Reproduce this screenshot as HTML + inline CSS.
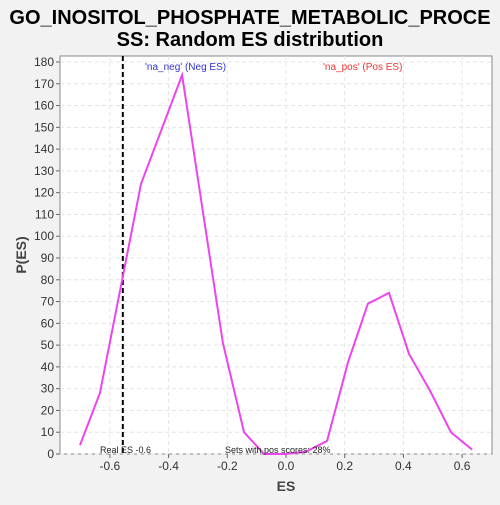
<!DOCTYPE html>
<html><head><meta charset="utf-8"><style>
body{margin:0;width:500px;height:500px;background:#f2f2f2;font-family:"Liberation Sans",sans-serif;overflow:hidden}
</style></head><body>
<svg id="c" width="500" height="500">
<text x="250" y="24" text-anchor="middle" font-size="20" font-weight="bold" fill="#000">GO_INOSITOL_PHOSPHATE_METABOLIC_PROCE</text>
<text x="250" y="46" text-anchor="middle" font-size="20" font-weight="bold" fill="#000">SS: Random ES distribution</text>
<rect x="60" y="56" width="432" height="398" fill="#fff" stroke="#888"/>
<g id="grid"></g><g id="axes"></g><g id="marks"></g>
<text x="286" y="491" text-anchor="middle" font-size="14" font-weight="bold" fill="#444">ES</text>
<text transform="translate(26,255) rotate(-90)" text-anchor="middle" font-size="14" font-weight="bold" fill="#444">P(ES)</text>
<text x="145" y="70" font-size="10" fill="#3333cc">'na_neg' (Neg ES)</text>
<text x="323" y="70" font-size="10" fill="#ee3333">'na_pos' (Pos ES)</text>
<text x="100" y="453" font-size="9" fill="#222">Real ES -0.6</text>
<text x="225" y="453" font-size="9" fill="#222">Sets with pos scores: 28%</text>
</svg>
<script>
const xs=[-0.702,-0.634,-0.494,-0.354,-0.215,-0.143,-0.075,-0.003,0.068,0.140,0.211,0.279,0.351,0.419,0.491,0.562,0.634];
const ys=[4,28,124,174,51,10,0,0,1,6,42,69,74,46,29,10,2];
const xTicks=[-0.6,-0.4,-0.2,0.0,0.2,0.4,0.6];
const xTickLabels=["-0.6","-0.4","-0.2","0.0","0.2","0.4","0.6"];
const yTicks=[0,10,20,30,40,50,60,70,80,90,100,110,120,130,140,150,160,170,180];
const realES=[-0.556];
const X=v=>286+v*293.5, Y=v=>454-v*(392/180);
const ns="http://www.w3.org/2000/svg";
function mk(t,a,p){const e=document.createElementNS(ns,t);for(const k in a)e.setAttribute(k,a[k]);p.appendChild(e);return e;}
const g=document.getElementById('grid'),ax=document.getElementById('axes'),m=document.getElementById('marks');
yTicks.forEach(v=>{
 const l=mk('line',{x1:60,x2:492,y1:Y(v),y2:Y(v),stroke:'#e4e4e4','stroke-dasharray':'4,3'},g);
 
 
 const t=mk('line',{x1:56,x2:60,y1:Y(v),y2:Y(v),stroke:'#666'},ax);
 
 
 const tx=mk('text',{x:54,y:Y(v)+4,'text-anchor':'end','font-size':12,fill:'#333'},ax);tx.textContent=v;
 
 
});
xTicks.forEach((v,i)=>{
 const l=mk('line',{x1:X(v),x2:X(v),y1:56,y2:454,stroke:'#e4e4e4','stroke-dasharray':'4,3'},g);
 
 
 const t=mk('line',{x1:X(v),x2:X(v),y1:454,y2:458,stroke:'#666'},ax);
 
 
 const tx=mk('text',{x:X(v),y:470,'text-anchor':'middle','font-size':12,fill:'#333'},ax);tx.textContent=xTickLabels[i];
 
 
});
const rl=mk('line',{x1:X(realES[0]),x2:X(realES[0]),y1:56,y2:454,stroke:'#000','stroke-width':2,'stroke-dasharray':'5,3'},m);


const pl=mk('polyline',{points:xs.map((x,i)=>X(x)+','+Y(ys[i])).join(' '),fill:'none',stroke:'#ee44ee','stroke-width':2},m);


</script>
</body></html>
